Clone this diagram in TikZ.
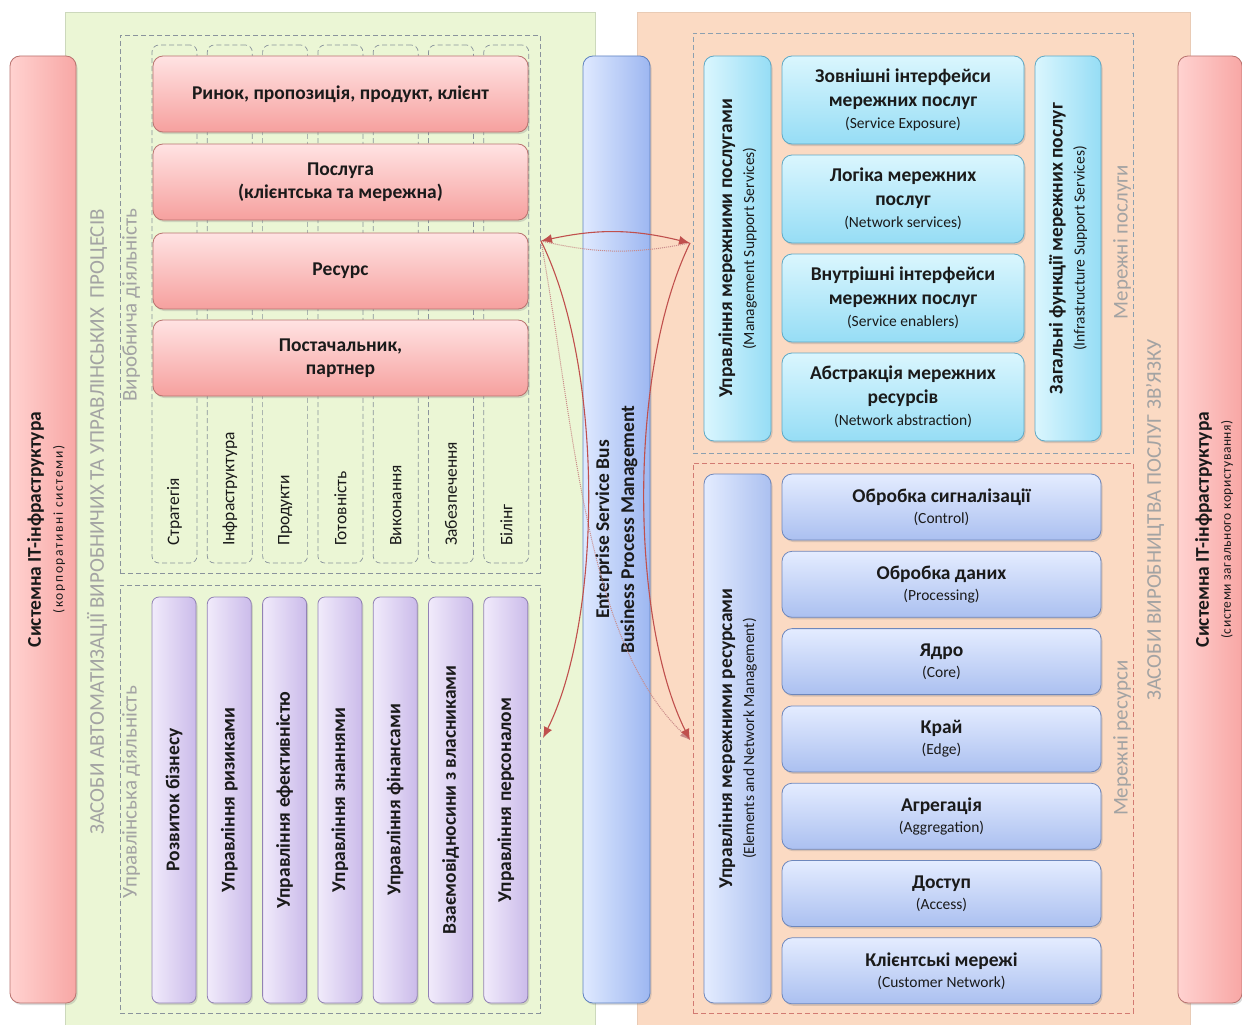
\documentclass[tikz,border=0pt]{standalone}
\usepackage{fontspec}
\setmainfont{Carlito}
\usetikzlibrary{arrows.meta,shadows,calc}
\definecolor{txt}{HTML}{1A1A1A}
\definecolor{graytxt}{HTML}{A3A3A3}
\definecolor{greenfill}{HTML}{EBF6D5}
\definecolor{greenline}{HTML}{CCD8BC}
\definecolor{orangefill}{HTML}{FBDAC3}
\definecolor{orangeline}{HTML}{E9CBB5}
\definecolor{dashgray}{HTML}{8A939C}
\definecolor{dashblue}{HTML}{8CA0B0}
\definecolor{dashred}{HTML}{D27A72}
\definecolor{redline}{HTML}{B9736F}
\definecolor{redtop}{HTML}{FFE3E3}
\definecolor{redbot}{HTML}{F6A09E}
\definecolor{sidel}{HTML}{FFD2D0}
\definecolor{sider}{HTML}{F8A7A5}
\definecolor{purline}{HTML}{9282B5}
\definecolor{purl}{HTML}{F1EBFB}
\definecolor{purr}{HTML}{CBBBEA}
\definecolor{esbline}{HTML}{5F82C0}
\definecolor{esbl}{HTML}{DFE9FF}
\definecolor{esbr}{HTML}{9DB7F1}
\definecolor{cyline}{HTML}{5EA9C6}
\definecolor{cytop}{HTML}{DAF6FE}
\definecolor{cybot}{HTML}{96DDF5}
\definecolor{blline}{HTML}{6E87BC}
\definecolor{bltop}{HTML}{E4ECFF}
\definecolor{blbot}{HTML}{ABC0F0}
\definecolor{arrowred}{HTML}{C0504D}
\definecolor{dotred}{HTML}{C98A88}
\newcommand{\bigb}{\bfseries\fontsize{19.5}{23}\selectfont}
\newcommand{\subf}{\mdseries\fontsize{15.5}{22}\selectfont}
\begin{document}
\begin{tikzpicture}[x=1pt,y=-1pt,
  base/.style={anchor=north west, inner sep=2pt, outer sep=0pt, align=center, text=txt},
  panel/.style={base, line width=0.6pt},
  dbox/.style={base, dashed, dash pattern=on 5pt off 3pt, line width=0.8pt},
  colbox/.style={base, draw=dashgray, dash pattern=on 5pt off 3pt, line width=0.7pt, rounded corners=7pt, minimum width=45, minimum height=518},
  shade/.style={drop shadow={shadow xshift=1.5pt, shadow yshift=-2pt, opacity=0.28}},
  redbox/.style={base, shade, rounded corners=10pt, draw=redline, line width=0.8pt, top color=redtop, bottom color=redbot, minimum width=375, minimum height=76, font=\bigb},
  sidebar/.style={base, shade, rounded corners=10pt, draw=redline, line width=0.8pt, left color=sidel, right color=sider, minimum height=947},
  purbox/.style={base, shade, rounded corners=7pt, draw=purline, line width=0.8pt, left color=purl, right color=purr, minimum width=44, minimum height=406},
  esbbar/.style={base, shade, rounded corners=10pt, draw=esbline, line width=0.8pt, left color=esbl, right color=esbr, minimum width=67, minimum height=947},
  cybox/.style={base, shade, rounded corners=10pt, draw=cyline, line width=0.8pt, top color=cytop, bottom color=cybot, minimum width=242, minimum height=88, font=\bfseries\fontsize{19.5}{24}\selectfont},
  blbox/.style={base, shade, rounded corners=10pt, draw=blline, line width=0.8pt, top color=bltop, bottom color=blbot, minimum width=319, minimum height=66, font=\bfseries\fontsize{19.5}{22}\selectfont},
  cybar/.style={base, shade, rounded corners=10pt, draw=cyline, line width=0.8pt, left color=cytop, right color=cybot},
  blbar/.style={base, shade, rounded corners=10pt, draw=blline, line width=0.8pt, left color=bltop, right color=blbot},
  rot/.style={rotate=90, align=center, inner sep=0pt, text=txt, font=\subf},
  graylab/.style={rotate=90, inner sep=0pt, text=graytxt, font=\fontsize{21}{24}\selectfont},
  collab/.style={rotate=90, anchor=west, inner sep=0pt, text=txt, font=\fontsize{17.5}{20}\selectfont},
  purlab/.style={rotate=90, inner sep=0pt, text=txt, font=\bfseries\fontsize{19.5}{22}\selectfont},
  conn/.style={draw=arrowred, line width=1.1pt, -{Latex[length=11pt,width=9pt]}},
  dotconn/.style={draw=dotred, line width=1pt, densely dotted}
]
\useasboundingbox (0,0) rectangle (1242,1025);
\fill[white] (0,0) rectangle (1242,1025);

% panels
\node[panel, fill=greenfill, draw=greenline, minimum width=530, minimum height=1013] (green) at (65,12) {};
\node[panel, fill=orangefill, draw=orangeline, minimum width=553, minimum height=1013] (orange) at (637,12) {};

% dashed groups
\node[dbox, draw=dashgray, minimum width=420, minimum height=538] (prod) at (120,35) {};
\node[dbox, draw=dashgray, minimum width=420, minimum height=428] (mgmt) at (120,585) {};
\node[dbox, draw=dashblue, minimum width=440, minimum height=420] (svc) at (693,33) {};
\node[dbox, draw=dashred, minimum width=440, minimum height=550] (res) at (693,463) {};

% gray labels
\node[graylab] (zasA) at (97,522) {ЗАСОБИ АВТОМАТИЗАЦІЇ ВИРОБНИЧИХ ТА УПРАВЛІНСЬКИХ\ \ ПРОЦЕСІВ};
\node[graylab] (vyr) at (131,305) {Виробнича діяльність};
\node[graylab] (upr) at (131,792) {Управлінська діяльність};
\node[graylab] (msp) at (1122,242) {Мережні послуги};
\node[graylab] (mres) at (1122,738) {Мережні ресурси};
\node[graylab] (zasB) at (1155,520) {ЗАСОБИ ВИРОБНИЦТВА ПОСЛУГ ЗВ’ЯЗКУ};

% columns and management boxes
\foreach \t/\p [count=\i from 0] in {Стратегія/Розвиток бізнесу, Інфраструктура/Управління ризиками, Продукти/Управління ефективністю, Готовність/Управління знаннями, Виконання/Управління фінансами, Забезпечення/Взаємовідносини з власниками, Білінг/Управління персоналом}{
  \pgfmathsetmacro{\xx}{152+55.3*\i}
  \pgfmathsetmacro{\xc}{\xx+22.5}
  \node[colbox] (col\i) at (\xx,45) {};
  \node[collab] (coll\i) at (\xc,546) {\t};
  \node[purbox] (pur\i) at (\xx,597) {};
  \node[purlab] (purl\i) at (pur\i.center) {\p};
}

% production boxes
\node[redbox] (r1) at (153,56) {Ринок, пропозиція, продукт, клієнт};
\node[redbox] (r2) at (153,144) {Послуга\\(клієнтська та мережна)};
\node[redbox] (r3) at (153,233) {Ресурс};
\node[redbox] (r4) at (153,320) {Постачальник,\\партнер};

% side bars
\node[sidebar, minimum width=66] (lbar) at (10,56) {};
\node[rot] (lbart) at ($(lbar.center)+(3,0)$) {{\bigb Системна ІТ-інфраструктура}\\{\fontsize{13.5}{22}\selectfont\addfontfeature{LetterSpace=12}(корпоративні системи)}};
\node[sidebar, minimum width=64] (rbar) at (1178,56) {};
\node[rot] (rbart) at ($(rbar.center)+(4,0)$) {{\bigb Системна ІТ-інфраструктура}\\{\fontsize{13.5}{22}\selectfont\addfontfeature{LetterSpace=4}(системи загального користування)}};

% ESB
\node[esbbar] (esb) at (583,56) {};
\node[rot, font=\bfseries\fontsize{19.5}{25}\selectfont] (esbt) at (esb.center) {Enterprise Service Bus\\Business Process Management};

% network services
\node[cybar, minimum width=67, minimum height=385] (cbl) at (704,56) {};
\node[rot] (cblt) at (cbl.center) {{\bigb Управління мережними послугами}\\(Management Support Services)};
\node[cybar, minimum width=66, minimum height=385] (cbr) at (1035,56) {};
\node[rot] (cbrt) at (cbr.center) {{\bigb Загальні функції мережних послуг}\\(Infrastructure Support Services)};
\node[cybox] (cy0) at (782,56) {Зовнішні інтерфейси\\мережних послуг\\[-2pt]\subf (Service Exposure)};
\node[cybox] (cy1) at (782,155) {Логіка мережних\\послуг\\[-2pt]\subf (Network services)};
\node[cybox] (cy2) at (782,254) {Внутрішні інтерфейси\\мережних послуг\\[-2pt]\subf (Service enablers)};
\node[cybox] (cy3) at (782,353) {Абстракція мережних\\ресурсів\\[-2pt]\subf (Network abstraction)};

% network resources
\node[blbar, minimum width=67, minimum height=529] (bbl) at (704,474) {};
\node[rot] (bblt) at (bbl.center) {{\bigb Управління мережними ресурсами}\\(Elements and Network Management)};
\foreach \a/\b [count=\i from 0] in {Обробка сигналізації/Control, Обробка даних/Processing, Ядро/Core, Край/Edge, Агрегація/Aggregation, Доступ/Access, Клієнтські мережі/Customer Network}{
  \pgfmathsetmacro{\yy}{474+77.3*\i}
  \node[blbox] (bl\i) at (782,\yy) {\a\\[-1pt]\subf (\b)};
}

% connectors
\coordinate (A) at ($(r3.north east)+(13,8)$);
\coordinate (B) at ($(cbl.north west)+(-14,187)$);
\coordinate (C) at ($(mgmt.north east)+(3,153)$);
\coordinate (D) at ($(bbl.north west)+(-14,266)$);
\draw[dotconn] (A) to[bend right=12] (B);
\draw[dotconn, -{Latex[length=10pt,width=8pt]}] (A) .. controls (575,430) and (585,640) .. (D);
\draw[conn, {Latex[length=11pt,width=9pt]}-{Latex[length=11pt,width=9pt]}] (A) to[bend left=13] (B);
\draw[conn] (A) .. controls (605,370) and (602,620) .. (C);
\draw[conn] (B) .. controls (628,370) and (630,620) .. (D);
\end{tikzpicture}
\end{document}
